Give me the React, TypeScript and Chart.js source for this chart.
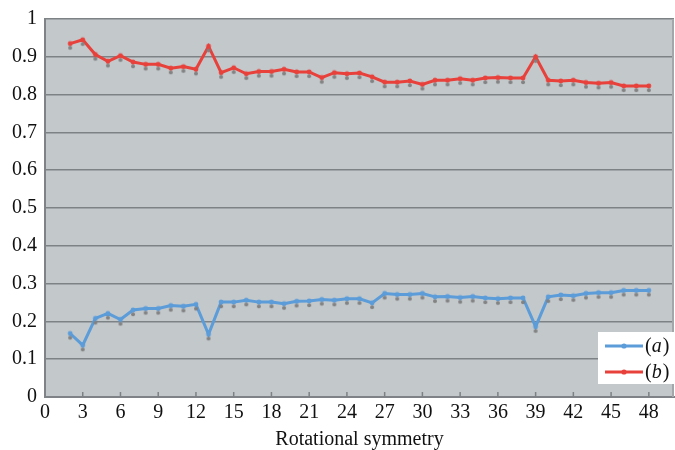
import { useEffect, useRef } from 'react';
import { Chart, registerables } from 'chart.js';

Chart.register(...registerables);

// Rotational symmetry order (x)
const symmetry = [
  2, 3, 4, 5, 6, 7, 8, 9, 10, 11, 12, 13, 14, 15, 16, 17, 18, 19, 20, 21, 22, 23, 24, 25,
  26, 27, 28, 29, 30, 31, 32, 33, 34, 35, 36, 37, 38, 39, 40, 41, 42, 43, 44, 45, 46, 47, 48,
];

// Series (a) - blue
const seriesA = [
  0.168, 0.137, 0.208, 0.221, 0.205, 0.23, 0.234, 0.234, 0.242, 0.24, 0.245, 0.166, 0.251,
  0.251, 0.256, 0.251, 0.251, 0.247, 0.253, 0.254, 0.258, 0.256, 0.26, 0.26, 0.249, 0.274,
  0.271, 0.271, 0.274, 0.265, 0.266, 0.263, 0.266, 0.262, 0.26, 0.262, 0.262, 0.186, 0.265,
  0.27, 0.268, 0.274, 0.276, 0.276, 0.282, 0.282, 0.282,
];

// Series (b) - red
const seriesB = [
  0.935, 0.945, 0.906, 0.888, 0.903, 0.886, 0.88, 0.88, 0.87, 0.874, 0.867, 0.928, 0.858,
  0.871, 0.855, 0.861, 0.861, 0.867, 0.86, 0.86, 0.845, 0.858, 0.855, 0.857, 0.847, 0.833,
  0.833, 0.836, 0.827, 0.838, 0.838, 0.842, 0.838, 0.844, 0.845, 0.844, 0.844, 0.9, 0.838,
  0.836, 0.838, 0.832, 0.83, 0.832, 0.823, 0.823, 0.823,
];

const seriesLabels = ['a', 'b'];
const seriesColors = ['#5b9cd9', '#e8413b'];
const xAxisTitle = 'Rotational symmetry';

const FONT = "'Liberation Serif'";

Chart.defaults.font.family = FONT;
Chart.defaults.font.size = 20;
Chart.defaults.color = '#111';

function makePointImage(color: string) {
  const c = document.createElement('canvas');
  c.width = 10;
  c.height = 18;
  const g = c.getContext('2d')!;
  g.fillStyle = 'rgba(128,128,128,0.95)';
  g.beginPath();
  g.arc(5, 13.3, 2, 0, Math.PI * 2);
  g.fill();
  g.fillStyle = color;
  g.beginPath();
  g.arc(5, 9, 2.4, 0, Math.PI * 2);
  g.fill();
  return c;
}

const plotBackground = {
  id: 'plotBackground',
  beforeDraw(chart: any) {
    const { ctx, chartArea } = chart;
    ctx.save();
    ctx.fillStyle = 'rgb(195,200,203)';
    ctx.fillRect(chartArea.left, chartArea.top, chartArea.right - chartArea.left, chartArea.bottom - chartArea.top);
    ctx.restore();
  },
};

const frameAndTicks = {
  id: 'frameAndTicks',
  beforeDatasetsDraw(chart: any) {
    const { ctx, chartArea } = chart;
    const xs = chart.scales.x;
    ctx.save();
    ctx.strokeStyle = '#a3a7aa';
    ctx.lineWidth = 2;
    ctx.beginPath();
    ctx.moveTo(chartArea.right - 1, chartArea.top);
    ctx.lineTo(chartArea.right - 1, chartArea.bottom);
    ctx.stroke();
    ctx.strokeStyle = '#7d8184';
    ctx.lineWidth = 1.5;
    xs.ticks.forEach((t: any) => {
      if (t.value === 0) return;
      const px = xs.getPixelForValue(t.value);
      ctx.beginPath();
      ctx.moveTo(px, chartArea.bottom);
      ctx.lineTo(px, chartArea.bottom - 5);
      ctx.stroke();
    });
    ctx.restore();
  },
};

const boxLegend = {
  id: 'boxLegend',
  afterDraw(chart: any) {
    const { ctx, chartArea } = chart;
    const right = chartArea.right;
    const bottom = chartArea.bottom;
    const boxX = right - 76;
    const boxY = bottom - 65;
    ctx.save();
    ctx.fillStyle = '#ffffff';
    ctx.fillRect(boxX, boxY, 76, 52);
    chart.data.datasets.forEach((ds: any, i: number) => {
      const y = boxY + 14 + i * 26;
      const x0 = boxX + 7;
      const x1 = boxX + 45;
      ctx.strokeStyle = ds.borderColor;
      ctx.lineWidth = 3;
      ctx.beginPath();
      ctx.moveTo(x0, y);
      ctx.lineTo(x1, y);
      ctx.stroke();
      ctx.fillStyle = ds.borderColor;
      ctx.beginPath();
      ctx.arc((x0 + x1) / 2, y, 2.6, 0, Math.PI * 2);
      ctx.fill();
      ctx.fillStyle = '#111';
      ctx.textBaseline = 'middle';
      ctx.textAlign = 'left';
      let tx = x1 + 2;
      const ty = y + 1;
      ctx.font = `20px ${FONT}`;
      ctx.fillText('(', tx, ty);
      tx += ctx.measureText('(').width;
      ctx.font = `italic 20px ${FONT}`;
      ctx.fillText(ds.label, tx, ty);
      tx += ctx.measureText(ds.label).width + 1;
      ctx.font = `20px ${FONT}`;
      ctx.fillText(')', tx, ty);
    });
    ctx.restore();
  },
};

export default function App() {
  const canvasRef = useRef<HTMLCanvasElement | null>(null);

  useEffect(() => {
    document.body.style.margin = '0';
    const canvas = canvasRef.current;
    if (!canvas) return;
    const seriesValues = [seriesA, seriesB];
    const tickFont = { family: FONT, size: 20, lineHeight: 1, style: 'normal' as const, weight: 'normal' as const };
    const chart = new Chart(canvas, {
      type: 'line',
      data: {
        datasets: seriesValues.map((vals, i) => ({
          label: seriesLabels[i],
          data: symmetry.map((x, j) => ({ x, y: vals[j] })),
          borderColor: seriesColors[i],
          backgroundColor: seriesColors[i],
          borderWidth: 3,
          pointStyle: makePointImage(seriesColors[i]) as any,
          pointRadius: 3,
          tension: 0,
        })),
      },
      options: {
        responsive: false,
        animation: false,
        layout: { autoPadding: false, padding: { top: 19, right: 1, left: 0, bottom: 0 } },
        plugins: {
          legend: { display: false },
          tooltip: { enabled: false },
        },
        scales: {
          x: {
            type: 'linear',
            min: 0,
            max: 50,
            bounds: 'data',
            ticks: {
              stepSize: 3,
              includeBounds: false,
              autoSkip: false,
              maxRotation: 0,
              padding: 6,
              color: '#111',
              font: tickFont,
            },
            afterBuildTicks(scale: any) {
              scale.ticks = scale.ticks.filter((t: any) => Math.abs(t.value % 3) < 1e-9);
            },
            grid: { display: false, drawTicks: false },
            border: { display: true, color: '#7f8387', width: 2 },
            title: {
              display: true,
              text: xAxisTitle,
              color: '#111',
              padding: 0,
              font: tickFont,
            },
            afterFit(scale: any) {
              scale.height = 53;
            },
          },
          y: {
            type: 'linear',
            min: 0,
            max: 1,
            ticks: {
              stepSize: 0.1,
              padding: 8,
              color: '#111',
              font: tickFont,
              callback: (v: any) => String(Number(Number(v).toFixed(1))),
            },
            grid: { color: '#7d8285', lineWidth: 1.5, drawTicks: false },
            border: { display: true, color: '#7f8387', width: 2 },
            afterFit(scale: any) {
              scale.width = 45;
            },
          },
        },
      },
      plugins: [plotBackground, frameAndTicks, boxLegend],
    });
    let alive = true;
    const fonts: any = (document as any).fonts;
    if (fonts && fonts.load) {
      Promise.all([
        fonts.load("20px 'Liberation Serif'"),
        fonts.load("italic 20px 'Liberation Serif'"),
      ])
        .then(() => {
          if (alive) chart.update();
        })
        .catch(() => {});
    }
    return () => {
      alive = false;
      chart.destroy();
    };
  }, []);

  return (
    <div style={{ width: 675, height: 450, background: '#fff' }}>
      <canvas ref={canvasRef} width={675} height={450} />
    </div>
  );
}
